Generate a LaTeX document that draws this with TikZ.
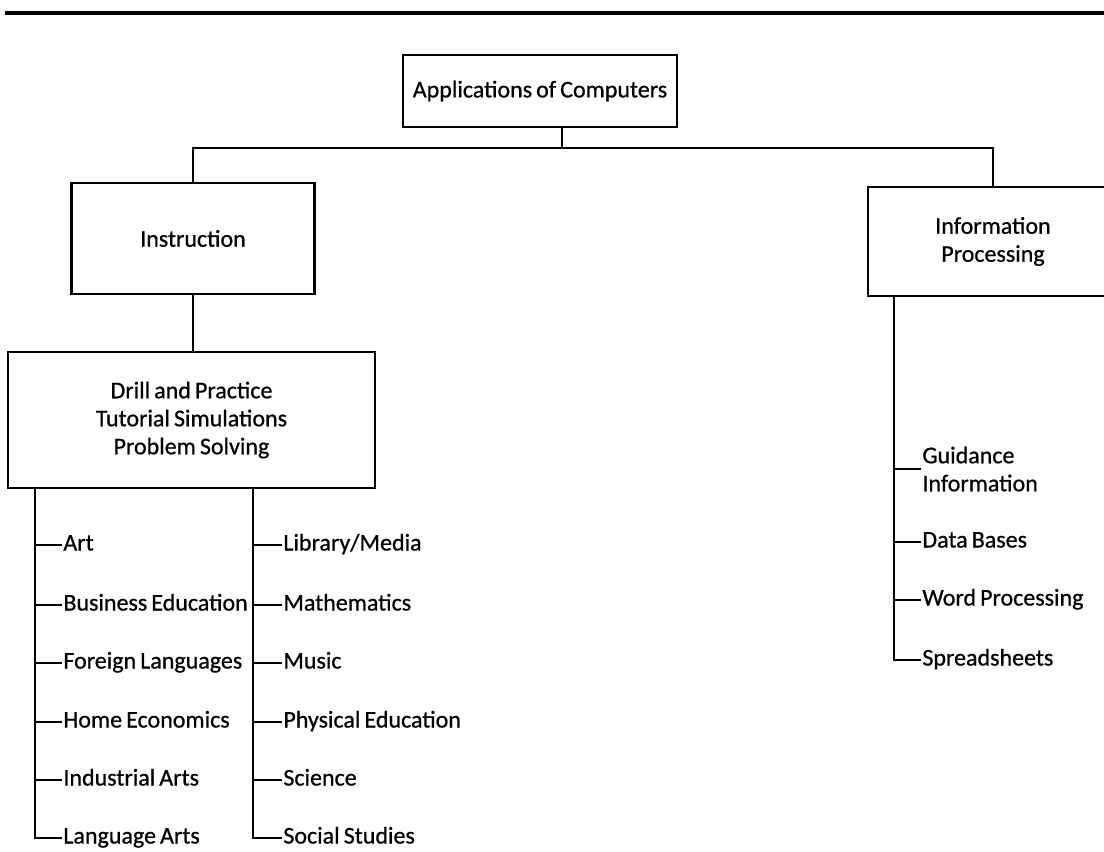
\documentclass[tikz,border=0pt]{standalone}
\usepackage{fontspec}
\setmainfont[FakeBold=0.7]{Carlito}
\newcommand{\tightsp}{\spaceskip=0.17em plus 0.05em\relax}
\begin{document}
\begin{tikzpicture}[x=1pt,y=-1pt, line width=2.8pt,
  box/.style={draw, rectangle, align=center, inner sep=0pt, font=\fontsize{24}{28}\selectfont\tightsp},
  item/.style={anchor=west, inner sep=0pt, text height=16pt, text depth=5pt, font=\fontsize{24}{28}\selectfont\tightsp}]
\useasboundingbox (0,0) rectangle (1104,852);
% top rule
\coordinate (ruleL) at (5,13);
\coordinate (ruleR) at (1104,13);
\draw[line width=3.2pt] (ruleL) -- (ruleR);

% boxes
\node[box, minimum width=274pt, minimum height=72pt] (top) at (540,91) {Applications of Computers};
\node[box, minimum width=243pt, minimum height=111pt] (instr) at (193,238.5) {Instruction};
\node[box, minimum width=250pt, minimum height=109pt] (info) at (993,241.5) {Information\\Processing};
\node[box, minimum width=367pt, minimum height=136pt] (drill) at (191.5,420) {Drill and Practice\\Tutorial Simulations\\Problem Solving};

% connectors
\coordinate (j) at (562,148);
\draw (j |- top.south) -- (j);
\draw (instr.north) |- (j) -| (info.north);
\draw (instr.south) -- (instr.south |- drill.north);

% left column items
\coordinate (sl) at (35,0);
\node[item] (art) at (62,545) {Art};
\node[item] (bus) at (62,605) {Business Education};
\node[item] (for) at (62,663) {Foreign Languages};
\node[item] (home) at (62,722) {Home Economics};
\node[item] (ind) at (62,780) {Industrial Arts};
\node[item] (lang) at (62,838) {Language Arts};
\draw (drill.south -| sl) -- (sl |- lang.west) -- (lang.west);
\foreach \n in {art,bus,for,home,ind} \draw (sl |- \n.west) -- (\n.west);

% second column items
\coordinate (sr) at (253,0);
\node[item] (lib) at (282,545) {Library/Media};
\node[item] (math) at (282,605) {Mathematics};
\node[item] (mus) at (282,663) {Music};
\node[item] (phys) at (282,722) {Physical Education};
\node[item] (sci) at (282,780) {Science};
\node[item] (soc) at (282,838) {Social Studies};
\draw (drill.south -| sr) -- (sr |- soc.west) -- (soc.west);
\foreach \n in {lib,math,mus,phys,sci} \draw (sr |- \n.west) -- (\n.west);

% information processing items
\coordinate (si) at (894,0);
\node[item, align=left, text height=, text depth=] (guid) at (921,469) {Guidance\\Information};
\node[item] (data) at (921,542) {Data Bases};
\node[item] (word) at (921,600) {Word Processing};
\node[item] (spr) at (921,660) {Spreadsheets};
\draw (info.south -| si) -- (si |- spr.west) -- (spr.west);
\foreach \n in {guid,data,word} \draw (si |- \n.west) -- (\n.west);
\end{tikzpicture}
\end{document}
